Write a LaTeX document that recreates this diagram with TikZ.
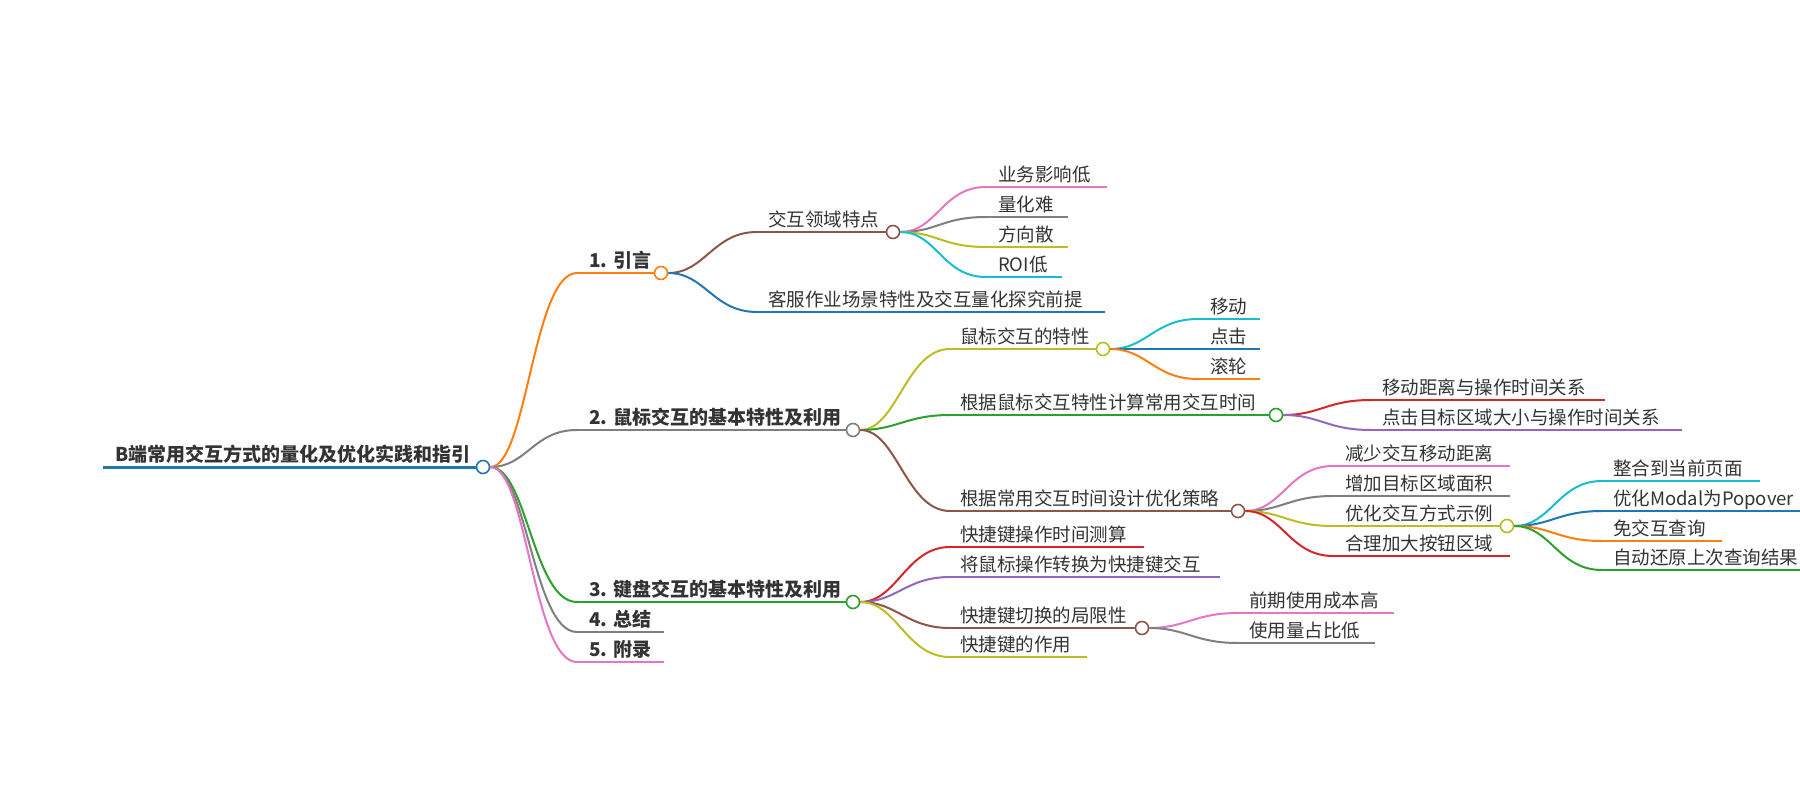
\documentclass[tikz,border=0pt]{standalone}
\usepackage{fontspec}
\setmainfont{Noto Sans CJK SC}
\definecolor{cBlue}{HTML}{1F77B4}
\definecolor{cOrange}{HTML}{FF7F0E}
\definecolor{cGreen}{HTML}{2CA02C}
\definecolor{cRed}{HTML}{D62728}
\definecolor{cPurple}{HTML}{9467BD}
\definecolor{cBrown}{HTML}{8C564B}
\definecolor{cPink}{HTML}{E377C2}
\definecolor{cGray}{HTML}{7F7F7F}
\definecolor{cOlive}{HTML}{BCBD22}
\definecolor{cCyan}{HTML}{17BECF}
\definecolor{ink}{HTML}{333333}
\begin{document}
\begin{tikzpicture}[x=1pt,y=-1pt]
\tikzset{
    knob/.style={circle,draw,fill=white,line width=1.6pt,minimum size=13pt,inner sep=0pt},
    topic/.style={anchor=base west,inner sep=0pt,text=ink,font=\fontsize{18.5}{22}\selectfont},
    headline/.style={topic,font=\fontsize{19}{22}\selectfont\bfseries},
    rule/.style={line width=2pt},
    wire/.style={line width=2pt,to path={.. controls +(44,0) and +(-44,0) .. (\tikztotarget)}}
}
\useasboundingbox (0,0) rectangle (1800,800);
% vertices
\coordinate (root-s) at (103,467);
\node[knob,draw=cBlue] (root) at (483,467) {};
\node[headline] (root-t) at (115,461) {B端常用交互方式的量化及优化实践和指引};

\coordinate (intro-s) at (577,273);
\node[knob,draw=cOrange] (intro) at (661,273) {};
\node[headline] (intro-t) at (589,267) {1. 引言};
\coordinate (mouse-s) at (577,430);
\node[knob,draw=cGray] (mouse) at (853,430) {};
\node[headline] (mouse-t) at (589,424) {2. 鼠标交互的基本特性及利用};
\coordinate (keys-s) at (577,602);
\node[knob,draw=cGreen] (keys) at (853,602) {};
\node[headline] (keys-t) at (589,596) {3. 键盘交互的基本特性及利用};
\coordinate (summary-s) at (577,632);
\coordinate (summary-e) at (664,632);
\node[headline] (summary-t) at (589,626) {4. 总结};
\coordinate (appendix-s) at (577,662);
\coordinate (appendix-e) at (664,662);
\node[headline] (appendix-t) at (589,656) {5. 附录};

% 1. intro
\coordinate (domain-s) at (757,232);
\node[knob,draw=cBrown] (domain) at (893,232) {};
\node[topic] (domain-t) at (768,226) {交互领域特点};
\coordinate (scene-s) at (757,312);
\coordinate (scene-e) at (1105,312);
\node[topic] (scene-t) at (768,306) {客服作业场景特性及交互量化探究前提};
\coordinate (dom1-s) at (986,187);
\coordinate (dom1-e) at (1107,187);
\node[topic] (dom1-t) at (998,181) {业务影响低};
\coordinate (dom2-s) at (986,217);
\coordinate (dom2-e) at (1068,217);
\node[topic] (dom2-t) at (998,211) {量化难};
\coordinate (dom3-s) at (986,247);
\coordinate (dom3-e) at (1068,247);
\node[topic] (dom3-t) at (998,241) {方向散};
\coordinate (dom4-s) at (986,277);
\coordinate (dom4-e) at (1062,277);
\node[topic] (dom4-t) at (998,271) {ROI低};

% 2. mouse
\coordinate (mfeat-s) at (950,349);
\node[knob,draw=cOlive] (mfeat) at (1103,349) {};
\node[topic] (mfeat-t) at (960,343) {鼠标交互的特性};
\coordinate (mcalc-s) at (950,415);
\node[knob,draw=cGreen] (mcalc) at (1276,415) {};
\node[topic] (mcalc-t) at (960,409) {根据鼠标交互特性计算常用交互时间};
\coordinate (mplan-s) at (950,511);
\node[knob,draw=cBrown] (mplan) at (1238,511) {};
\node[topic] (mplan-t) at (960,505) {根据常用交互时间设计优化策略};
\coordinate (mf1-s) at (1198,319);
\coordinate (mf1-e) at (1260,319);
\node[topic] (mf1-t) at (1210,313) {移动};
\coordinate (mf2-s) at (1198,349);
\coordinate (mf2-e) at (1260,349);
\node[topic] (mf2-t) at (1210,343) {点击};
\coordinate (mf3-s) at (1198,379);
\coordinate (mf3-e) at (1260,379);
\node[topic] (mf3-t) at (1210,373) {滚轮};
\coordinate (mc1-s) at (1371,400);
\coordinate (mc1-e) at (1605,400);
\node[topic] (mc1-t) at (1382,394) {移动距离与操作时间关系};
\coordinate (mc2-s) at (1371,430);
\coordinate (mc2-e) at (1682,430);
\node[topic] (mc2-t) at (1382,424) {点击目标区域大小与操作时间关系};
\coordinate (mp1-s) at (1333,466);
\coordinate (mp1-e) at (1510,466);
\node[topic] (mp1-t) at (1345,460) {减少交互移动距离};
\coordinate (mp2-s) at (1333,496);
\coordinate (mp2-e) at (1510,496);
\node[topic] (mp2-t) at (1345,490) {增加目标区域面积};
\coordinate (mp3-s) at (1333,526);
\node[knob,draw=cOlive] (mp3) at (1507,526) {};
\node[topic] (mp3-t) at (1345,520) {优化交互方式示例};
\coordinate (mp4-s) at (1333,556);
\coordinate (mp4-e) at (1510,556);
\node[topic] (mp4-t) at (1345,550) {合理加大按钮区域};
\coordinate (ex1-s) at (1602,481);
\coordinate (ex1-e) at (1760,481);
\node[topic] (ex1-t) at (1613,475) {整合到当前页面};
\coordinate (ex2-s) at (1602,511);
\coordinate (ex2-e) at (1810,511);
\node[topic] (ex2-t) at (1613,505) {优化Modal为Popover};
\coordinate (ex3-s) at (1602,541);
\coordinate (ex3-e) at (1722,541);
\node[topic] (ex3-t) at (1613,535) {免交互查询};
\coordinate (ex4-s) at (1602,570);
\coordinate (ex4-e) at (1810,570);
\node[topic] (ex4-t) at (1613,564) {自动还原上次查询结果};

% 3. keys
\coordinate (k1-s) at (950,547);
\coordinate (k1-e) at (1144,547);
\node[topic] (k1-t) at (960,541) {快捷键操作时间测算};
\coordinate (k2-s) at (950,577);
\coordinate (k2-e) at (1220,577);
\node[topic] (k2-t) at (960,571) {将鼠标操作转换为快捷键交互};
\coordinate (k3-s) at (950,628);
\node[knob,draw=cBrown] (k3) at (1142,628) {};
\node[topic] (k3-t) at (960,622) {快捷键切换的局限性};
\coordinate (k4-s) at (950,657);
\coordinate (k4-e) at (1087,657);
\node[topic] (k4-t) at (960,651) {快捷键的作用};
\coordinate (k31-s) at (1238,613);
\coordinate (k31-e) at (1394,613);
\node[topic] (k31-t) at (1249,607) {前期使用成本高};
\coordinate (k32-s) at (1238,643);
\coordinate (k32-e) at (1375,643);
\node[topic] (k32-t) at (1249,637) {使用量占比低};

% underlines
\draw[rule,cBlue,line width=3pt] (root-s) -- (root);
\draw[rule,cOrange] (intro-s) -- (intro);
\draw[rule,cGray] (mouse-s) -- (mouse);
\draw[rule,cGreen] (keys-s) -- (keys);
\draw[rule,cGray] (summary-s) -- (summary-e);
\draw[rule,cPink] (appendix-s) -- (appendix-e);
\draw[rule,cBrown] (domain-s) -- (domain);
\draw[rule,cBlue] (scene-s) -- (scene-e);
\draw[rule,cPink] (dom1-s) -- (dom1-e);
\draw[rule,cGray] (dom2-s) -- (dom2-e);
\draw[rule,cOlive] (dom3-s) -- (dom3-e);
\draw[rule,cCyan] (dom4-s) -- (dom4-e);
\draw[rule,cOlive] (mfeat-s) -- (mfeat);
\draw[rule,cGreen] (mcalc-s) -- (mcalc);
\draw[rule,cBrown] (mplan-s) -- (mplan);
\draw[rule,cCyan] (mf1-s) -- (mf1-e);
\draw[rule,cBlue] (mf2-s) -- (mf2-e);
\draw[rule,cOrange] (mf3-s) -- (mf3-e);
\draw[rule,cRed] (mc1-s) -- (mc1-e);
\draw[rule,cPurple] (mc2-s) -- (mc2-e);
\draw[rule,cPink] (mp1-s) -- (mp1-e);
\draw[rule,cGray] (mp2-s) -- (mp2-e);
\draw[rule,cOlive] (mp3-s) -- (mp3);
\draw[rule,cRed] (mp4-s) -- (mp4-e);
\draw[rule,cCyan] (ex1-s) -- (ex1-e);
\draw[rule,cBlue] (ex2-s) -- (ex2-e);
\draw[rule,cOrange] (ex3-s) -- (ex3-e);
\draw[rule,cGreen] (ex4-s) -- (ex4-e);
\draw[rule,cRed] (k1-s) -- (k1-e);
\draw[rule,cPurple] (k2-s) -- (k2-e);
\draw[rule,cBrown] (k3-s) -- (k3);
\draw[rule,cOlive] (k4-s) -- (k4-e);
\draw[rule,cPink] (k31-s) -- (k31-e);
\draw[rule,cGray] (k32-s) -- (k32-e);

% edges
\path[wire]
(root) edge[cOrange] (intro-s)
(root) edge[cGray] (mouse-s)
(root) edge[cGreen] (keys-s)
(root) edge[cGray] (summary-s)
(root) edge[cPink] (appendix-s)
(intro) edge[cBrown] (domain-s)
(intro) edge[cBlue] (scene-s)
(domain) edge[cPink] (dom1-s)
(domain) edge[cGray] (dom2-s)
(domain) edge[cOlive] (dom3-s)
(domain) edge[cCyan] (dom4-s)
(mouse) edge[cOlive] (mfeat-s)
(mouse) edge[cGreen] (mcalc-s)
(mouse) edge[cBrown] (mplan-s)
(mfeat) edge[cCyan] (mf1-s)
(mfeat) edge[cBlue] (mf2-s)
(mfeat) edge[cOrange] (mf3-s)
(mcalc) edge[cRed] (mc1-s)
(mcalc) edge[cPurple] (mc2-s)
(mplan) edge[cPink] (mp1-s)
(mplan) edge[cGray] (mp2-s)
(mplan) edge[cOlive] (mp3-s)
(mplan) edge[cRed] (mp4-s)
(mp3) edge[cCyan] (ex1-s)
(mp3) edge[cBlue] (ex2-s)
(mp3) edge[cOrange] (ex3-s)
(mp3) edge[cGreen] (ex4-s)
(keys) edge[cRed] (k1-s)
(keys) edge[cPurple] (k2-s)
(keys) edge[cBrown] (k3-s)
(keys) edge[cOlive] (k4-s)
(k3) edge[cPink] (k31-s)
(k3) edge[cGray] (k32-s)
;
\end{tikzpicture}
\end{document}
